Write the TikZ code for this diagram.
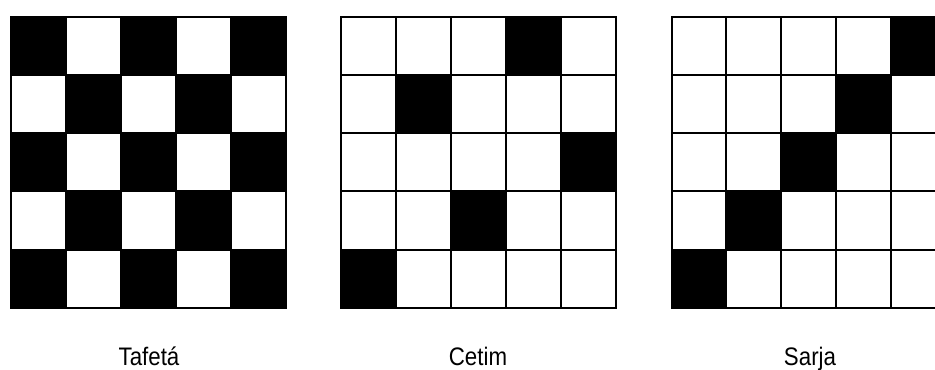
\documentclass[tikz,border=0pt]{standalone}
\usepackage{fontspec}
\setmainfont{Liberation Sans}

\tikzset{every picture/.style={line width=0.75pt}}
\tikzset{
  weave line/.style={draw=black, line width=1.5pt, line cap=rect},
  weave fill/.style={fill=black},
  weave label/.style={anchor=base, inner sep=0.75pt, font=\fontsize{19}{22}\selectfont}
}
% one 5x5 weave pattern: #1 = left edge, #2 = list of black cells (col/row, row from top)
\newcommand{\weavegrid}[2]{%
  \begin{scope}[shift={(#1,16.7)}]
    \foreach \c/\r in {#2}
      \fill[weave fill] (\c*54.9,\r*58.2) rectangle ++(54.9,58.2);
    \foreach \k in {0,...,5} {
      \draw[weave line] (\k*54.9,0) -- (\k*54.9,291);
      \draw[weave line] (0,\k*58.2) -- (274.5,\k*58.2);
    }
  \end{scope}%
}
\newcommand{\narrow}[1]{\scalebox{0.88}[1]{#1}}

\begin{document}
\begin{tikzpicture}[x=0.75pt,y=0.75pt,yscale=-1,xscale=1]
    \useasboundingbox (0,0) rectangle (935,369);
    \clip (0,0) rectangle (935,369);

    % Tafeta
    \weavegrid{11}{0/0,2/0,4/0,1/1,3/1,0/2,2/2,4/2,1/3,3/3,0/4,2/4,4/4}
    % Cetim
    \weavegrid{341}{3/0,1/1,4/2,2/3,0/4}
    % Sarja
    \weavegrid{671.5}{4/0,3/1,2/2,1/3,0/4}

    % Text Node
    \node[weave label] (tafeta) at (149,365) {\narrow{Tafetá}};
    % Text Node
    \node[weave label] (cetim) at (478,365) {\narrow{Cetim}};
    % Text Node
    \node[weave label] (sarja) at (810,365) {\narrow{Sarja}};
\end{tikzpicture}
\end{document}
